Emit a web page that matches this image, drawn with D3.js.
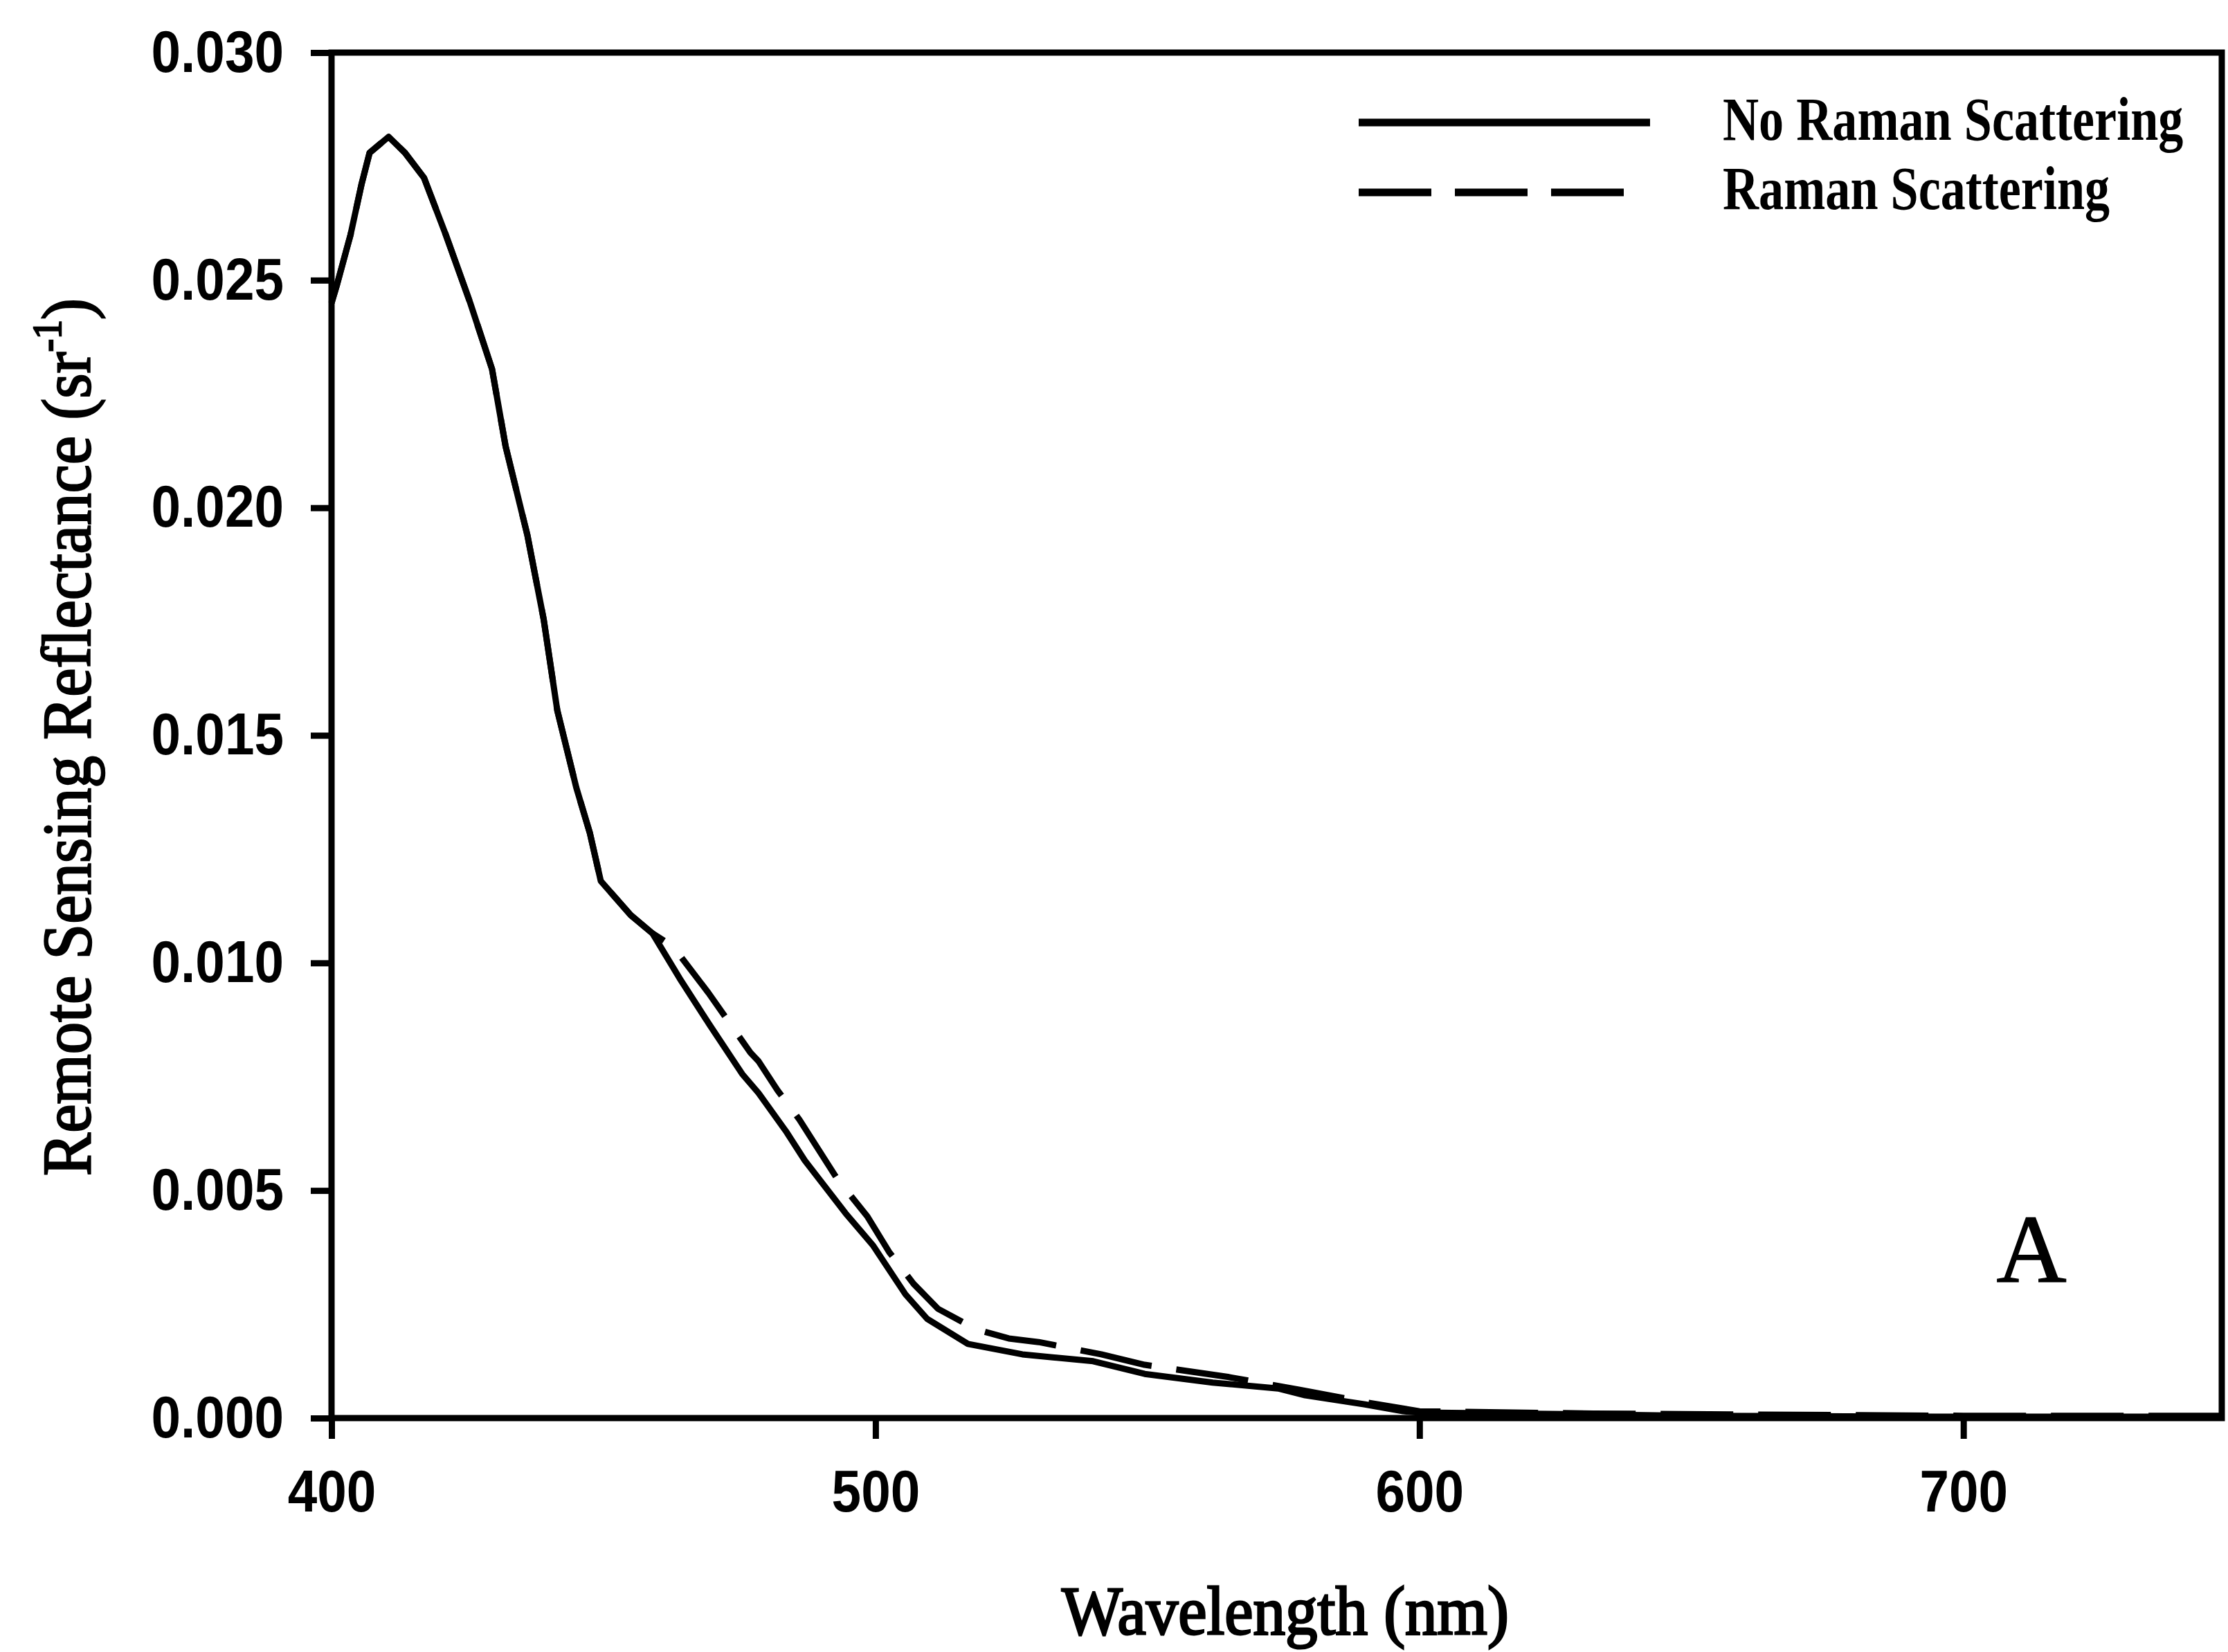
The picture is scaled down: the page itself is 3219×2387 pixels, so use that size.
<!DOCTYPE html>
<html>
<head>
<meta charset="utf-8">
<script src="https://cdn.jsdelivr.net/npm/d3@7"></script>
<style>
    html, body { margin: 0; padding: 0; background: #fff; }
    svg { display: block; }
    .tick text { font-family: "Liberation Sans", Arial, sans-serif; font-weight: bold; font-size: 85px; fill: #000; }
    .serif { font-family: "Liberation Serif", "Times New Roman", serif; fill: #000; }
</style>
</head>
<body>
<script>
(function() {
    'use strict';

    // wavelength (nm) / remote sensing reflectance (sr-1)
    let noRamanWl  = [400, 401, 403.5, 405.5, 407, 410.5, 413.5, 417, 421, 425.5, 429.5, 432, 436, 439,
                      441.5, 445, 447.5, 449.5, 455, 459, 464, 469.5, 475.5, 478.5, 483.5, 487, 494.5,
                      499.5, 505.5, 509.5, 517, 527, 540, 549.5, 562, 574, 579, 590, 597, 600, 632, 650,
                      700, 747.5];
    let noRamanRrs = [0.0245, 0.0249, 0.0260, 0.0271, 0.0278, 0.02815, 0.0278, 0.02725, 0.0260, 0.0245,
                      0.02305, 0.02135, 0.0194, 0.01755, 0.01555, 0.01385, 0.01285, 0.0118, 0.01105,
                      0.01065, 0.00966, 0.00864, 0.00756, 0.00714, 0.00631, 0.00566, 0.0045, 0.0038,
                      0.00272, 0.00218, 0.00163, 0.0014, 0.00125, 0.00097, 0.00078, 0.00065, 0.0005,
                      0.0003, 0.00015, 0.00012, 0.00008, 0.00005, 0.00003, 0.00003];

    let ramanWl  = [400, 401, 403.5, 405.5, 407, 410.5, 413.5, 417, 421, 425.5, 429.5, 432, 436, 439,
                    441.5, 445, 447.5, 449.5, 455, 459, 462.8, 469.3, 477, 478.5, 482, 486, 493, 498.5,
                    502.5, 507, 511.5, 518.5, 524.5, 530, 541.5, 549.5, 565, 578, 590, 600, 632, 700,
                    747.5];
    let ramanRrs = [0.0245, 0.0249, 0.0260, 0.0271, 0.0278, 0.02815, 0.0278, 0.02725, 0.0260, 0.0245,
                    0.02305, 0.02135, 0.0194, 0.01755, 0.01555, 0.01385, 0.01285, 0.0118, 0.01105,
                    0.01065, 0.01036, 0.00934, 0.00803, 0.00784, 0.0072, 0.00656, 0.00525, 0.00443,
                    0.00365, 0.00295, 0.0024, 0.00195, 0.00175, 0.00167, 0.0014, 0.00117, 0.0009,
                    0.00062, 0.00035, 0.00015, 0.0001, 0.00005, 0.00005];

    let xTicks = [400, 500, 600, 700];
    let yTicks = [0, 0.005, 0.010, 0.015, 0.020, 0.025, 0.030];

    let seriesNames = ["No Raman Scattering", "Raman Scattering"];
    let xTitle = "Wavelength (nm)";
    let yTitle = "Remote Sensing Reflectance (sr";
    let panelLetter = "A";

    let width = 3219;
    let height = 2387;
    let margin = { left: 479, top: 76, right: 9, bottom: 338 };

    let x = d3.scaleLinear()
        .domain([400, 747.5])
        .range([margin.left, width - margin.right]);
    let y = d3.scaleLinear()
        .domain([0, 0.030])
        .range([height - margin.bottom, margin.top]);

    let svg = d3.select("body").append("svg")
        .attr("width", width)
        .attr("height", height);

    svg.append("rect")
        .attr("width", width)
        .attr("height", height)
        .attr("fill", "#fff");

    let labelSquash = 0.9;

    // x axis
    let xAxis = d3.axisBottom(x)
        .tickValues(xTicks)
        .tickFormat(d3.format("d"))
        .tickSize(30)
        .tickSizeOuter(0)
        .tickPadding(45);
    let gx = svg.append("g")
        .attr("transform", "translate(0," + y(0) + ")")
        .call(xAxis);
    gx.select(".domain").remove();
    gx.selectAll(".tick line").attr("stroke", "#000").attr("stroke-width", 9);
    gx.selectAll(".tick text")
        .attr("transform", "scale(" + labelSquash + ",1)");

    // y axis
    let yAxis = d3.axisLeft(y)
        .tickValues(yTicks)
        .tickFormat(d3.format(".3f"))
        .tickSize(30)
        .tickSizeOuter(0);
    let gy = svg.append("g")
        .attr("transform", "translate(" + x(400) + ",0)")
        .call(yAxis);
    gy.select(".domain").remove();
    gy.selectAll(".tick line").attr("stroke", "#000").attr("stroke-width", 9);
    gy.selectAll(".tick text")
        .attr("x", -69 / labelSquash)
        .attr("transform", "scale(" + labelSquash + ",1)");

    // frame
    svg.append("rect")
        .attr("x", x(400))
        .attr("y", y(0.030))
        .attr("width", x(747.5) - x(400))
        .attr("height", y(0) - y(0.030))
        .attr("fill", "none")
        .attr("stroke", "#000")
        .attr("stroke-width", 9);

    // curves
    let line = d3.line()
        .x(function(d) { return x(d[0]); })
        .y(function(d) { return y(d[1]); });

    let noRaman = d3.zip(noRamanWl, noRamanRrs);
    let raman = d3.zip(ramanWl, ramanRrs);

    svg.append("path")
        .datum(raman)
        .attr("d", line)
        .attr("fill", "none")
        .attr("stroke", "#000")
        .attr("stroke-width", 9)
        .attr("stroke-dasharray", "105 36")
        .attr("stroke-linejoin", "round");

    svg.append("path")
        .datum(noRaman)
        .attr("d", line)
        .attr("fill", "none")
        .attr("stroke", "#000")
        .attr("stroke-width", 9)
        .attr("stroke-linejoin", "round");

    // legend
    let legend = svg.append("g");
    legend.append("line")
        .attr("x1", 1963).attr("x2", 2384)
        .attr("y1", 177).attr("y2", 177)
        .attr("stroke", "#000").attr("stroke-width", 11);
    legend.append("line")
        .attr("x1", 1963).attr("x2", 2346)
        .attr("y1", 278).attr("y2", 278)
        .attr("stroke", "#000").attr("stroke-width", 11)
        .attr("stroke-dasharray", "105 34");
    seriesNames.forEach(function(name, i) {
        legend.append("text")
            .attr("class", "serif")
            .attr("transform", "translate(2489," + (202 + i * 100) + ") scale(0.82,1)")
            .attr("font-size", 88)
            .attr("font-weight", "bold")
            .text(name);
    });

    // axis titles
    svg.append("text")
        .attr("class", "serif")
        .attr("transform", "translate(1857,2361) scale(0.93,1)")
        .attr("text-anchor", "middle")
        .attr("font-size", 100)
        .attr("stroke", "#000")
        .attr("stroke-width", 3)
        .text(xTitle);

    let yt = svg.append("text")
        .attr("class", "serif")
        .attr("transform", "translate(130,1065) rotate(-90) scale(0.93,1)")
        .attr("text-anchor", "middle")
        .attr("font-size", 100)
        .attr("stroke", "#000")
        .attr("stroke-width", 2.5);
    yt.append("tspan").text(yTitle);
    yt.append("tspan")
        .attr("font-size", 60)
        .attr("dy", -42)
        .text("-1");
    yt.append("tspan")
        .attr("dy", 42)
        .text(")");

    // panel letter
    svg.append("text")
        .attr("class", "serif")
        .attr("x", 2935)
        .attr("y", 1852)
        .attr("text-anchor", "middle")
        .attr("font-size", 140)
        .attr("stroke", "#000")
        .attr("stroke-width", 1.5)
        .text(panelLetter);
})();
</script>
</body>
</html>
